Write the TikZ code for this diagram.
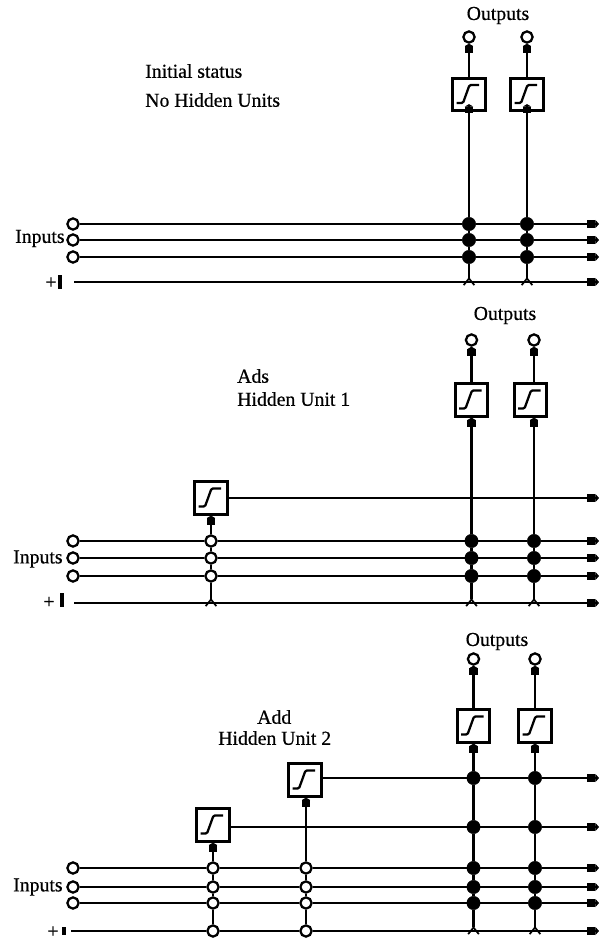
\documentclass[tikz,border=0pt]{standalone}
\usepackage{fontspec}
\setmainfont[FakeBold=0.5]{Liberation Serif}
\usetikzlibrary{arrows.meta, positioning, calc}

\begin{document}
\begin{tikzpicture}[
    x=0.75pt, y=-0.75pt,
    hole/.style={draw, circle, fill=white, line width=1.7pt, inner sep=0pt, minimum size=8.4pt},
    dot/.style={draw, circle, fill=black, line width=0.4pt, inner sep=0pt, minimum size=10pt},
    sigbox/.style={draw, fill=white, line width=2.1pt, inner sep=0pt, minimum size=24.4pt,
        path picture={\draw[line width=1.7pt, rounded corners=1pt, shift={(path picture bounding box.center)}]
            (-12.5,8.5) -- (-6,8.5) -- (0.5,-9.5) -- (10,-9.5);}},
    biasbar/.style={fill=black, inner sep=0pt, minimum width=3pt, minimum height=10pt},
    lbl/.style={inner sep=0pt, font=\fontsize{14.8}{16}\selectfont},
    wire/.style={line width=2.1pt},
    thinwire/.style={line width=1.8pt},
    arrow/.style={-{Square[length=6pt, width=6.2pt, sep=0pt] Triangle[length=2.8pt, width=6.2pt]}},
    feed/.style={-{Square[length=5pt, width=6.2pt, sep=0pt] Triangle[length=1.8pt, width=6.2pt]}},
    barb/.style={{Straight Barb[reversed, length=5pt, width=8pt, line width=1.3pt]}-},
]
\useasboundingbox (0,0) rectangle (605,940);

% Initial status
\node[lbl] (outa) at (498,15.5) {Outputs};
\node[lbl, anchor=west] (stata) at (145,71) {Initial status};
\node[lbl, anchor=west] (nohid) at (145,100) {No Hidden Units};
\node[lbl, anchor=west] (inlbla) at (15,238.5) {Inputs};
\node[lbl] (plusa) at (51,283) {+};
\node[biasbar] (bara) at (60,282) {};

\node[hole] (ina1) at (73,224) {};
\node[hole] (ina2) at (73,240) {};
\node[hole] (ina3) at (73,257) {};
\coordinate (bsa) at (74,282);
\coordinate (ea1) at (599,224);
\coordinate (ea2) at (599,240);
\coordinate (ea3) at (599,257);
\coordinate (ea4) at (599,282);

\node[sigbox] (boxa1) at (469,94.5) {};
\node[sigbox] (boxa2) at (527,94.5) {};
\node[hole] (oa1) at (469,37) {};
\node[hole] (oa2) at (527,37) {};

\node[dot] (da11) at (boxa1 |- ina1) {};
\node[dot] (da12) at (boxa1 |- ina2) {};
\node[dot] (da13) at (boxa1 |- ina3) {};
\node[dot] (da21) at (boxa2 |- ina1) {};
\node[dot] (da22) at (boxa2 |- ina2) {};
\node[dot] (da23) at (boxa2 |- ina3) {};
\coordinate (ta1) at ($(boxa1 |- bsa)+(0,4)$);
\coordinate (ta2) at ($(boxa2 |- bsa)+(0,4)$);

\draw[wire, arrow] (ina1) -- (da11) -- (da21) -- (ea1);
\draw[wire, arrow] (ina2) -- (da12) -- (da22) -- (ea2);
\draw[wire, arrow] (ina3) -- (da13) -- (da23) -- (ea3);
\draw[thinwire, arrow] (bsa) -- (ea4);

\draw[wire, barb] (ta1) -- (da13);
\draw[wire] (da13) -- (da12) -- (da11);
\draw[wire, barb] (ta2) -- (da23);
\draw[wire] (da23) -- (da22) -- (da21);
\draw[wire, feed, shorten >=-6pt] (da11) -- (boxa1);
\draw[wire, feed, shorten >=-6pt] (da21) -- (boxa2);
\draw[wire, feed] (boxa1) -- (oa1);
\draw[wire, feed] (boxa2) -- (oa2);

% Ads Hidden Unit 1
\node[lbl] (outb) at (505,315.5) {Outputs};
\node[lbl, anchor=west] (adsb) at (237,376) {Ads};
\node[lbl, anchor=west] (hidb) at (237,399) {Hidden Unit 1};
\node[lbl, anchor=west] (inlblb) at (13,559) {Inputs};
\node[lbl] (plusb) at (49,602.5) {+};
\node[biasbar] (barb) at (62,600) {};

\node[hole] (inb1) at (73,541) {};
\node[hole] (inb2) at (73,558) {};
\node[hole] (inb3) at (73,576) {};
\coordinate (bsb) at (74,603);
\coordinate (eb0) at (599,498);
\coordinate (eb1) at (599,541);
\coordinate (eb2) at (599,558);
\coordinate (eb3) at (599,576);
\coordinate (eb4) at (599,603);

\node[sigbox] (hb1) at (211,498) {};
\node[sigbox] (boxb1) at (471.5,400) {};
\node[sigbox] (boxb2) at (530.5,400) {};
\node[hole] (ob1) at (471.5,340) {};
\node[hole] (ob2) at (534,340) {};

\node[hole] (hb11) at (hb1 |- inb1) {};
\node[hole] (hb12) at (hb1 |- inb2) {};
\node[hole] (hb13) at (hb1 |- inb3) {};
\node[dot] (db11) at (ob1 |- inb1) {};
\node[dot] (db12) at (ob1 |- inb2) {};
\node[dot] (db13) at (ob1 |- inb3) {};
\node[dot] (db21) at (ob2 |- inb1) {};
\node[dot] (db22) at (ob2 |- inb2) {};
\node[dot] (db23) at (ob2 |- inb3) {};
\coordinate (tb0) at ($(hb1 |- bsb)+(0,4)$);
\coordinate (tb1) at ($(db11 |- bsb)+(0,4)$);
\coordinate (tb2) at ($(db21 |- bsb)+(0,4)$);

\draw[wire, arrow] (inb1) -- (hb11) -- (db11) -- (db21) -- (eb1);
\draw[wire, arrow] (inb2) -- (hb12) -- (db12) -- (db22) -- (eb2);
\draw[wire, arrow] (inb3) -- (hb13) -- (db13) -- (db23) -- (eb3);
\draw[thinwire, arrow] (bsb) -- (eb4);
\draw[thinwire, arrow] (hb1) -- (eb0);

\draw[wire, barb] (tb0) -- (hb13);
\draw[wire] (hb13) -- (hb12) -- (hb11);
\draw[wire, feed] (hb11) -- (hb1);
\draw[wire, barb] (tb1) -- (db13);
\draw[wire] (db13) -- (db12) -- (db11);
\draw[wire, barb] (tb2) -- (db23);
\draw[wire] (db23) -- (db22) -- (db21);
\draw[wire, feed] (db11) -- (boxb1);
\draw[wire, feed] (db21) -- (db21 |- boxb2.south);
\draw[wire, feed] (boxb1) -- (ob1);
\draw[wire, feed] (ob2 |- boxb2.north) -- (ob2);

% Add Hidden Unit 2
\node[lbl] (outc) at (497,641.5) {Outputs};
\node[lbl, anchor=west] (addc) at (257,717) {Add};
\node[lbl, anchor=west] (hidc) at (218,738) {Hidden Unit 2};
\node[lbl, anchor=west] (inlblc) at (13,887) {Inputs};
\node[lbl] (plusc) at (53,932) {+};
\node[biasbar, minimum height=6.5pt] (barc) at (64,931) {};

\node[hole] (inc1) at (73,868) {};
\node[hole] (inc2) at (73,887) {};
\node[hole] (inc3) at (73,903) {};
\coordinate (bsc) at (71,931);
\coordinate (ec5) at (599,778);
\coordinate (ec0) at (599,827);
\coordinate (ec1) at (599,868);
\coordinate (ec2) at (599,887);
\coordinate (ec3) at (599,903);
\coordinate (ec4) at (599,931);

\node[sigbox] (hc1) at (213,825) {};
\node[sigbox] (hc2) at (305,780) {};
\node[sigbox] (boxc1) at (473.5,726) {};
\node[sigbox] (boxc2) at (535,726) {};
\node[hole] (oc1) at (473.5,659) {};
\node[hole] (oc2) at (535,659) {};

\node[hole] (hc11) at (213,868) {};
\node[hole] (hc12) at (213,887) {};
\node[hole] (hc13) at (213,903) {};
\node[hole] (hc14) at (213,931) {};
\node[hole] (hc21) at (306,868) {};
\node[hole] (hc22) at (306,887) {};
\node[hole] (hc23) at (306,903) {};
\node[hole] (hc24) at (306,931) {};

\node[dot] (dc15) at (473.5,778) {};
\node[dot] (dc10) at (473.5,827) {};
\node[dot] (dc11) at (473.5,868) {};
\node[dot] (dc12) at (473.5,887) {};
\node[dot] (dc13) at (473.5,903) {};
\node[dot] (dc25) at (535,778) {};
\node[dot] (dc20) at (535,827) {};
\node[dot] (dc21) at (535,868) {};
\node[dot] (dc22) at (535,887) {};
\node[dot] (dc23) at (535,903) {};
\coordinate (tc1) at ($(dc11 |- bsc)+(0,4)$);
\coordinate (tc2) at ($(dc21 |- bsc)+(0,4)$);

\draw[wire, arrow] (inc1) -- (hc11) -- (hc21) -- (dc11) -- (dc21) -- (ec1);
\draw[wire, arrow] (inc2) -- (hc12) -- (hc22) -- (dc12) -- (dc22) -- (ec2);
\draw[wire, arrow] (inc3) -- (hc13) -- (hc23) -- (dc13) -- (dc23) -- (ec3);
\draw[thinwire, arrow] (bsc) -- (hc14) -- (hc24) -- (ec4);
\draw[thinwire] (hc1.east |- dc10) -- (dc10);
\draw[thinwire, arrow] (dc10) -- (dc20) -- (ec0);
\draw[thinwire] (hc2.east |- dc15) -- (dc15);
\draw[thinwire, arrow] (dc15) -- (dc25) -- (ec5);

\draw[wire] (hc14) -- (hc13) -- (hc12) -- (hc11);
\draw[wire, feed] (hc11) -- (hc1);
\draw[wire] (hc24) -- (hc23) -- (hc22) -- (hc21);
\draw[wire, feed] (hc21) -- (hc21 |- hc2.south);
\draw[wire, barb] (tc1) -- (dc13);
\draw[wire] (dc13) -- (dc12) -- (dc11) -- (dc10) -- (dc15);
\draw[wire, barb] (tc2) -- (dc23);
\draw[wire] (dc23) -- (dc22) -- (dc21) -- (dc20) -- (dc25);
\draw[wire, feed] (dc15) -- (boxc1);
\draw[wire, feed] (dc25) -- (boxc2);
\draw[wire, feed] (boxc1) -- (oc1);
\draw[wire, feed] (boxc2) -- (oc2);

\end{tikzpicture}
\end{document}
